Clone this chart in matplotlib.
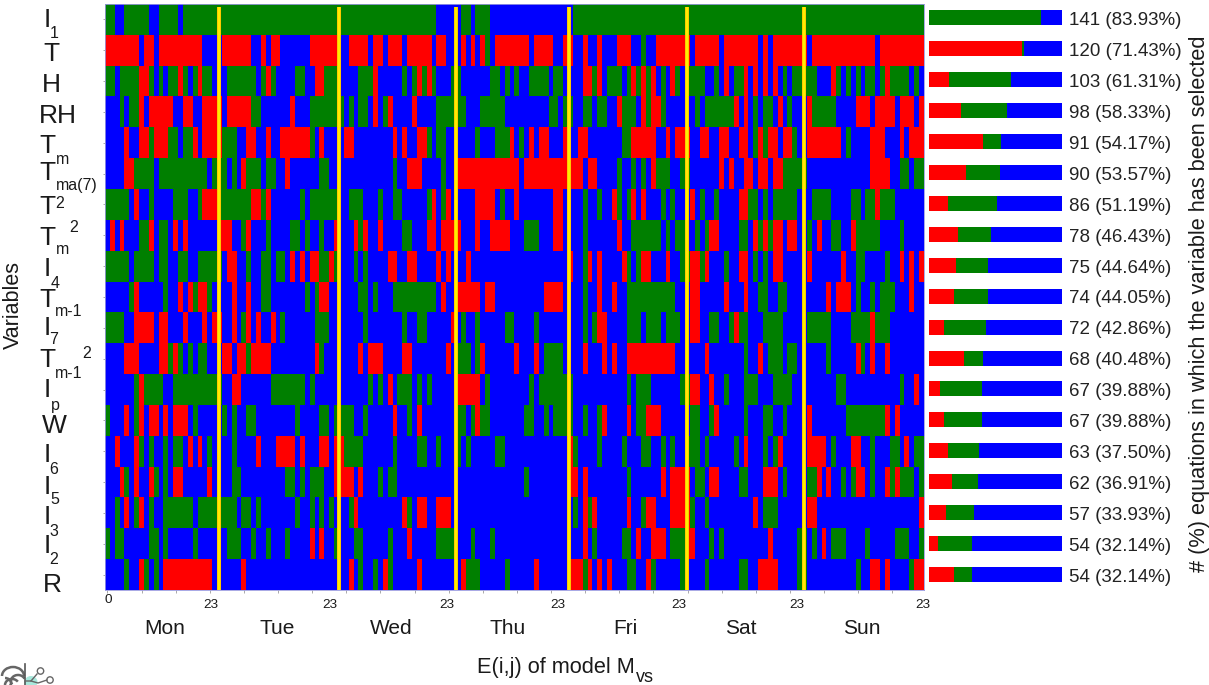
import matplotlib
matplotlib.use("Agg")
import matplotlib.pyplot as plt
import numpy as np
from matplotlib.colors import ListedColormap
from matplotlib.patches import Arc, Circle, Ellipse

plt.rcParams['font.family'] = ['Liberation Sans', 'DejaVu Sans']

W, H = 1209, 685
n_cols = 168

# Selection runs per variable: a letter and the hour at which that run starts
runs = [
"G0 B2 G4 B9 G11 B15 G16 B68 G73 B75 G76 B79 G96",
"R0 B7 R8 B10 R11 B20 R24 B30 R32 B33 R34 B36 R42 B48 R50 B54 R55 B57 R58 B61 R62 B67 R68 B70 R73 B74 R75 B76 R77 G78 B79 R80 B87 R88 B92 R94 B96 R98 B99 R101 B102 R105 B108 G110 B111 R113 B120 R121 B126 R127 B134 R135 B136 R137 B144 R145 B158 R159",
"G0 B2 G3 R7 G9 B10 G11 B12 G13 R15 G16 B17 G18 R19 G20 B22 G25 B31 G32 R33 G34 B35 G39 B41 R43 G45 B48 G52 R55 B56 G61 B62 G63 R64 G65 R66 G67 B68 G71 B73 G79 B81 G82 B83 G84 B85 G87 B91 G92 B94 R98 G100 R101 B102 G103 B106 G107 R108 G109 R110 G111 R112 B113 G114 B115 R116 G117 B118 G119 B123 G125 B126 R127 B128 G129 R131 B132 R133 B134 R135 B136 R137 B138 G139 B140 G141 B146 R149 G150 B151 G152 B153 G154 B155 G156 B158 G159 R160 G161 B165 G166 B167",
"B0 G3 B4 G5 R7 B8 R9 B14 R16 B18 R20 B24 R25 G30 B32 R38 B39 G42 B49 G50 B51 G52 B54 R55 B56 G57 R58 B59 R63 B64 G68 B74 G77 B82 G91 B93 G94 B96 G98 B100 G101 B103 R105 G106 B109 R110 G111 R112 G114 B115 B120 G121 B122 G123 R129 B130 R131 B132 G133 B134 G135 B137 R138 B139 G140 B141 R144 G145 B150 R154 B157 R158 B162 R163 B166 R167",
"B0 R4 B5 R7 G9 R10 G13 B15 G16 R18 B19 R20 G24 B27 R29 B31 R33 B34 R36 G42 B43 R44 B45 R49 B51 R59 B60 R61 B62 R64 G66 B67 G68 B70 G76 B77 G80 R83 B84 G85 B86 R87 B88 R89 B91 R94 B95 R97 B99 G106 R108 B113 R115 B116 R117 B120 R122 B124 R126 B128 R130 B132 G133 R134 G135 R136 B138 R139 G141 B142 R144 B151 G152 B153 R157 B160 R163 B164 R165",
"B0 R4 G6 B10 G11 B21 G22 B25 G26 B27 R28 G29 B32 G33 B35 R37 B38 G44 B46 G59 B60 R62 B65 G69 B70 R72 B85 R86 B98 R99 B101 G105 B106 G108 B109 G110 B111 R112 G113 B116 G118 B120 R126 B127 R128 B129 R131 B133 R134 B136 R137 G139 B144 R157 B161 G163 B165 G166",
"G0 B5 R6 B7 G9 B10 G14 B17 G19 R20 G23 R30 G32 R33 B34 G40 B41 G42 B48 G50 B53 G56 B57 G59 B61 G66 R67 B68 G69 R70 B71 R76 B80 G81 B82 R84 B85 R92 B94 G98 B99 G101 B102 R104 G105 B106 G107 R108 B109 R110 B111 G114 B115 G116 B117 R120 B121 G122 B123 G125 B126 R130 G132 B134 G135 B136 G137 B142 G145 B149 G153 B155 G156 R158 G159 B162",
"B0 R1 B2 R3 B4 G7 R9 B10 G11 B13 R14 B15 R16 B17 R23 B26 G28 R29 B30 G33 B34 G38 B40 G41 B42 G44 B45 R47 B48 R51 G52 R53 B54 R56 B57 G61 B63 R66 B68 R69 B73 R76 B77 R79 B83 G86 B89 R92 B94 G98 B99 R105 B106 G108 B114 G115 B116 G117 B119 G121 B122 G123 R124 B126 G130 B132 R133 G134 R135 G136 R137 B139 R140 B142 G144 B145 R146 B147 G149 B151 R153 G154 B159 G163 B164",
"G0 B5 G6 B10 G11 B13 G15 B17 G19 B24 R25 B27 G29 B30 G32 B34 G35 B37 R38 B39 R40 B41 R42 G44 R46 G47 B48 G51 B52 G53 B54 R58 B60 R62 B64 R68 B69 R70 B71 R74 B75 R95 B96 G98 R99 B100 R101 B102 R106 G107 B108 G109 R110 B112 R115 B116 G118 R120 G122 R123 B124 G127 B128 R130 B132 G133 B134 G135 B136 R137 B139 R144 B145 R151 B152 G154 B156 G160 B161 R163 B164 R165 B166 R167",
"B0 G5 R6 B7 G12 B13 R15 B16 R17 G18 R19 G21 B22 R26 B27 R29 B30 G32 B34 G41 B42 G43 R44 B46 G52 B54 G55 B56 G59 B68 R69 B70 R72 B77 R78 B80 R90 B94 G98 B99 R101 B102 R104 B105 G107 B117 R120 B122 R127 B128 R131 B132 G134 B136 G138 B140 R148 B149 R150 B153 G154 B155 G157 B158 G159 B162 R165 B166",
"G0 B4 R6 B10 R11 B13 R16 B17 R20 B21 R22 B24 R26 B27 G28 R29 B30 R31 B32 R34 B35 G36 B37 G43 B46 G53 B54 G61 B62 G64 B66 R71 B72 G73 B74 G76 B77 G82 B84 G88 B89 G98 B99 G100 R101 B103 G107 B110 G111 B114 G115 B118 R120 B122 G124 B126 G128 R129 G130 B132 G135 B139 G144 B149 G153 R157 G158 B161",
"B0 R4 B7 R11 G13 R14 G15 B16 G17 B18 G19 B21 R24 B26 R27 G29 R30 B34 R43 G44 B45 R52 B53 R54 B57 R61 B63 R70 B71 G72 B75 G76 R77 B78 R84 B85 R88 B89 G90 B94 R98 B99 R102 B103 R104 B105 R107 B117 R123 B124 G131 B132 R134 B135 G136 B139 G140 B142 G148 B149 R154 G155 B156 R157 B158 R160 B161",
"B0 G6 R7 G8 B12 G14 B24 R26 B28 G34 B41 G42 B43 G54 B55 G56 B57 R58 B59 G60 B63 G64 B65 G66 B67 R72 B77 G78 B79 G87 B88 G89 B96 G107 B108 G109 B112 G118 R120 B122 R124 B125 G127 B128 G131 B134 G137 B141 G150 B152 G163 B164 R166 B167",
"G0 B1 R4 B5 G6 R7 B8 R9 B11 R12 B13 R14 B17 G18 B19 G24 B25 G26 B27 G29 B31 G39 B40 G44 B46 G47 B51 G53 B54 R59 B60 G62 B63 R64 B65 G72 B74 G75 R76 G77 B79 G86 B88 G90 B91 G92 B96 G98 B99 G101 R102 B103 R107 B108 G109 R111 B114 G120 B122 G124 R125 B126 G131 B132 G135 B137 G139 B140 R144 B145 G152 R160 B161 R162 B163",
"B0 R2 B3 R6 G7 B8 G9 B10 G12 B13 G14 B16 R17 B18 R19 B20 G21 B22 G26 B27 R31 B32 R35 B39 R40 B41 R44 B46 R47 G49 B53 G59 B60 G64 B66 G68 B69 G72 B73 G74 B75 G80 B82 R95 G96 B97 G101 B102 G106 B107 G110 B112 G114 B115 G116 B117 G119 B122 G123 B124 G129 B130 R131 B132 G135 B136 G137 R138 B139 R144 B148 G149 B150 R153 B155 G157 B158 G161 B163 R164 B165 G166",
"B0 R3 G4 B5 R6 B7 R9 G10 B11 G12 B13 R14 B16 R21 B22 G26 B28 G37 B39 G40 B41 G42 B45 R47 B51 R52 B53 G56 B57 G58 B60 G86 B87 R95 B97 R98 B99 G107 B108 R114 B115 R116 B120 G121 B123 R124 B126 G130 B132 R135 B138 G139 B140 G144 R146 B147 R148 B149 G151 B152 G153 R154 B156 G157 B158 R160 G161 R162 G163 B166 G167",
"B0 G2 B3 R4 B5 G6 R7 B8 G9 B10 G12 B18 G19 B27 G28 B30 G31 B32 G39 B40 G42 B43 G44 B45 G46 B47 G50 R51 B52 R61 G62 B63 R64 B66 R68 B71 G96 B97 R98 G99 R100 B101 R107 B108 G110 R111 B113 R116 G120 B121 G123 B124 R133 B134 G135 B138 R144 B146 R167",
"G0 B1 G2 B4 G9 B11 G12 B13 G18 B19 G25 B28 G30 B31 G33 B34 G37 B38 R42 B43 R44 B45 G47 B48 G51 B53 G58 B59 R62 B63 G68 B72 G75 B76 G79 B80 R98 B99 G100 B101 G106 B108 R109 B110 R112 B115 G116 R119 B121 G124 B125 G126 B127 R136 B137 G142 B144 G145 B146 R147 B148 G149 B152 G156 B157 G162 B165 G167",
"B0 G4 B5 R7 G8 B9 G10 B11 R12 B22 R28 B29 R50 B51 G52 B53 G55 B56 R57 G58 B59 R64 B65 R73 G74 B77 G82 B83 R88 B89 R95 G98 R99 B100 R101 B102 R103 B104 G107 B109 R111 G112 B113 G118 B119 G123 B124 G130 B132 R134 B138 G142 B144 G154 B155 R157 B159 R160 B161 G165 R166",
]

bar_labels = ["141 (83.93%)", "120 (71.43%)", "103 (61.31%)", "98 (58.33%)", "91 (54.17%)",
              "90 (53.57%)", "86 (51.19%)", "78 (46.43%)", "75 (44.64%)", "74 (44.05%)",
              "72 (42.86%)", "68 (40.48%)", "67 (39.88%)", "67 (39.88%)", "63 (37.50%)",
              "62 (36.91%)", "57 (33.93%)", "54 (32.14%)", "54 (32.14%)"]
red_counts = [0, 118, 25, 40, 68, 47, 24, 37, 34, 32, 19, 44, 14, 19, 24, 29, 21, 11, 32]
green_counts = [141, 2, 78, 58, 23, 43, 62, 41, 41, 42, 53, 24, 53, 48, 39, 33, 36, 43, 22]
day_names = ["Mon", "Tue", "Wed", "Thu", "Fri", "Sat", "Sun"]
day_ends = [23.3, 47.9, 72.0, 95.1, 119.4, 143.3]

code = {"B": 0, "G": 1, "R": 2}
grid = np.zeros((len(runs), n_cols), dtype=int)
for i, row in enumerate(runs):
    toks = row.split()
    for j, t in enumerate(toks):
        s = int(t[1:])
        e = int(toks[j + 1][1:]) if j + 1 < len(toks) else n_cols
        grid[i, s:e] = code[t[0]]

fig = plt.figure(figsize=(W / 100, H / 100), dpi=100)


def box(x0, y0, x1, y1):
    return [x0 / W, 1 - y1 / H, (x1 - x0) / W, (y1 - y0) / H]


def txt(x, y, s, size, ha="center", va="center", **kw):
    return fig.text(x / W, 1 - (y + 2) / H, s, fontsize=size, ha=ha, va=va, color="#1a1a1a", **kw)


ax = fig.add_axes(box(105, 4, 924, 590))
cmap = ListedColormap(["#0000ff", "#007f00", "#ff0000"])
ax.imshow(grid, cmap=cmap, vmin=0, vmax=2, aspect="auto", interpolation="nearest",
          extent=(0, n_cols, len(runs), 0))
for d in day_ends:
    ax.axvline(d, ymin=0, ymax=0.995, color="#ffc000", lw=2.9, solid_capstyle="butt", zorder=3)
    ax.axvline(d, ymin=0, ymax=0.995, color="#ffee00", lw=1.7, solid_capstyle="butt", zorder=4)
ax.set_yticks(np.arange(len(runs)) + 0.5)
ax.set_xticks(np.arange(0.5, n_cols, 7))
ax.tick_params(length=1.8, width=0.5, color="#888888", labelleft=False, labelbottom=False)
for s in ax.spines.values():
    s.set_color("#9a9ae0")
    s.set_linewidth(0.6)

bx = fig.add_axes(box(929, 2.23, 1062, 590.1))
bx.set_xlim(0, n_cols)
bx.set_ylim(len(runs), 0)
bx.axis("off")
ypos = np.arange(len(runs)) + 0.5
red = np.array(red_counts)
green = np.array(green_counts)
blue = n_cols - red - green
bx.barh(ypos, red, height=0.485, color="#ff0000", linewidth=0)
bx.barh(ypos, green, left=red, height=0.485, color="#007f00", linewidth=0)
bx.barh(ypos, blue, left=red + green, height=0.485, color="#0000ff", linewidth=0)
for y, lab in zip(ypos, bar_labels):
    bx.text(176.8, y + 0.09, lab, fontsize=13.5, va="center", ha="left", color="#222222",
            clip_on=False)

# Variable names: main letter, subscript and superscript
big, small = 19, 11.5
txt(47, 18, "I", big)
txt(54, 32, "1", small)
txt(51, 52, "T", big)
txt(51, 83, "H", big)
txt(58, 114, "RH", big)
txt(47, 144, "T", big)
txt(63, 157, "m", small)
txt(47, 171, "T", big)
txt(77, 184, "ma(7)", small)
txt(47, 205, "T", big)
txt(60, 202, "2", small)
txt(47, 236, "T", big)
txt(63, 248, "m", small)
txt(74, 225, "2", small)
txt(47, 267, "I", big)
txt(55, 281, "4", small)
txt(47, 298, "T", big)
txt(69, 310, "m-1", small)
txt(47, 326, "I", big)
txt(54, 337, "7", small)
txt(47, 358, "T", big)
txt(69, 372, "m-1", small)
txt(87, 352, "2", small)
txt(47, 388, "I", big)
txt(55, 403, "p", small)
txt(54, 424, "W", big)
txt(47, 453, "I", big)
txt(54, 467, "6", small)
txt(47, 485, "I", big)
txt(55, 498, "5", small)
txt(47, 515, "I", big)
txt(54, 529, "3", small)
txt(47, 544, "I", big)
txt(54, 557, "2", small)
txt(52, 583, "R", big)

txt(13, 303, "Variables", 15.5, rotation=90)
txt(1199, 302, "# (%) equations in which the variable has been selected", 15.7, rotation=90)

txt(108, 598, "0", 9.7)
for x in [211, 330, 447, 558, 679, 797, 923]:
    txt(x, 603, "23", 9.7)
for x, d in zip([165, 277, 391, 508, 625, 741, 862], day_names):
    txt(x, 626, d, 15)
txt(477, 665, "E(i,j) of model M", 15.7, ha="left")
txt(636, 676, "vs", 13, ha="left")

# Clipped logo at the lower-left corner
lg = fig.add_axes([0, 0, 60 / W, 22 / H])
lg.set_xlim(0, 60)
lg.set_ylim(22, 0)
lg.axis("off")
lg.add_patch(Ellipse((31, 19), 13, 12, color="#a8e8dc", lw=0))
for cx, cy, w, h, a, b in [(13, 13, 22, 18, 180, 360), (18, 18, 14, 12, 150, 340),
                           (5, 20, 12, 10, 270, 90), (12, 22, 14, 12, 180, 330)]:
    lg.add_patch(Arc((cx, cy), w, h, theta1=a, theta2=b, ec="#666666", lw=1.8))
lg.plot([25, 25], [1, 22], color="#555555", lw=1.2)
lg.plot([26, 31, 37], [18, 18, 11], color="#666666", lw=1.0)
lg.plot([31, 38, 47], [18, 20, 17], color="#666666", lw=1.0)
for cx, cy in [(40.5, 8), (50, 17)]:
    lg.add_patch(Circle((cx, cy), 3.2, fill=False, ec="#666666", lw=1.0))

fig.savefig("out.png", dpi=100)
